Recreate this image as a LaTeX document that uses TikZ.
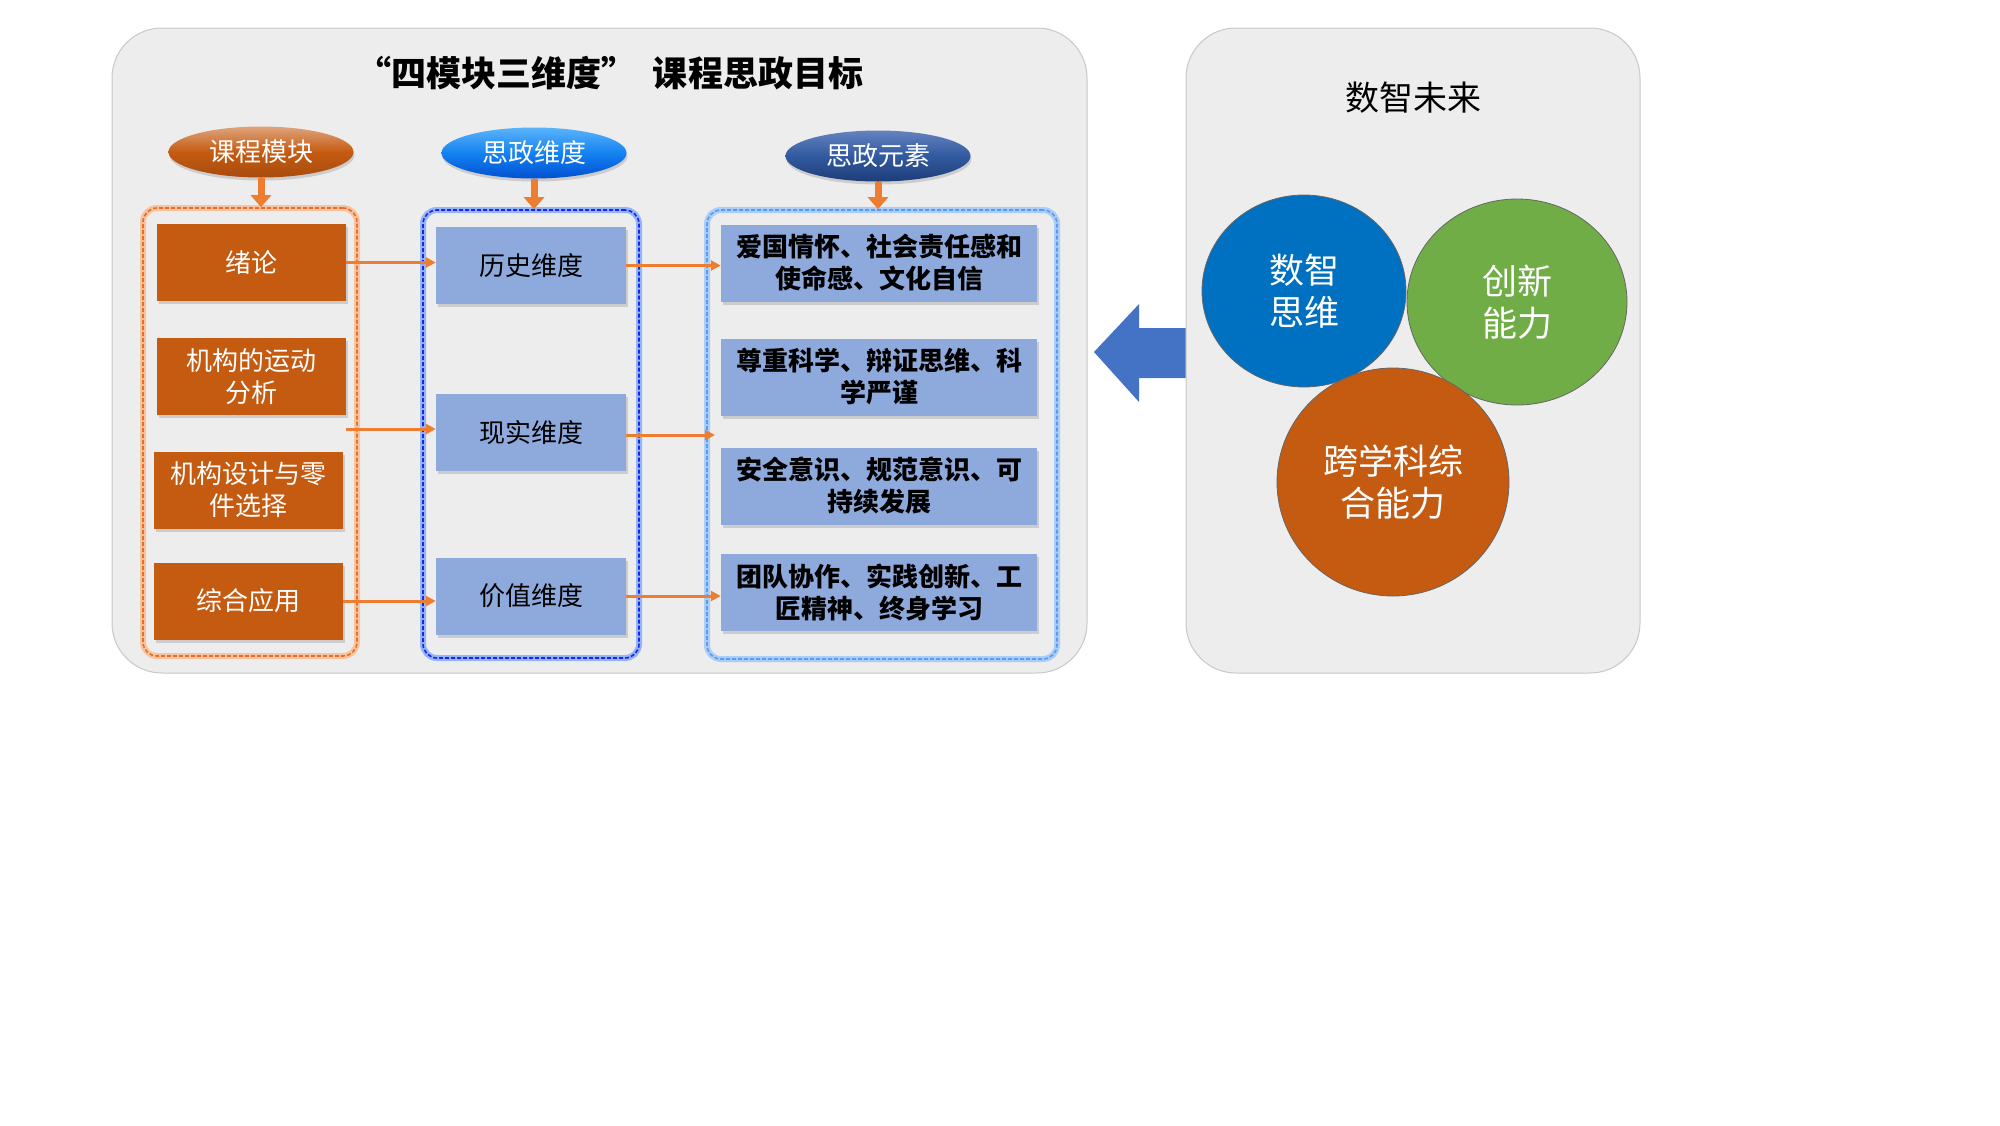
\documentclass[tikz,border=0pt]{standalone}
\usepackage{fontspec}
\setmainfont{Noto Sans CJK SC}
\usetikzlibrary{positioning, arrows.meta, calc, backgrounds, shapes.geometric, shadows}
\definecolor{panelBg}{RGB}{237,237,237}
\definecolor{panelBrd}{RGB}{200,200,200}
\definecolor{modFill}{RGB}{197,90,17}
\definecolor{dimFill}{RGB}{142,169,219}
\definecolor{arrowC}{RGB}{237,125,49}
\definecolor{modBrd}{RGB}{230,110,40}
\definecolor{modGlow}{RGB}{248,196,160}
\definecolor{dimBrd}{RGB}{20,40,230}
\definecolor{dimGlow}{RGB}{150,180,250}
\definecolor{eleBrd}{RGB}{91,155,235}
\definecolor{eleGlow}{RGB}{170,205,250}
\definecolor{bigArrow}{RGB}{68,114,196}
\definecolor{cirBlue}{RGB}{0,112,192}
\definecolor{cirGreen}{RGB}{112,173,71}
\definecolor{cirOrange}{RGB}{197,90,17}
\tikzset{
  every node/.style={font=\fontsize{26}{32}\selectfont},
  B/.style={inner sep=2pt, align=center, minimum height=77pt,
    drop shadow={shadow xshift=2pt, shadow yshift=-3pt, opacity=0.3}},
  MOD/.style={B, fill=modFill, text=white, minimum width=189pt},
  DIM/.style={B, fill=dimFill, text=black, minimum width=190pt},
  ELE/.style={B, fill=dimFill, text=black, minimum width=316pt,
    font=\fontsize{26}{32}\selectfont\bfseries},
  HEAD/.style={ellipse, minimum width=185pt, minimum height=51pt, inner sep=0pt,
    text=white, font=\fontsize{26}{30}\selectfont,
    drop shadow={shadow xshift=1pt, shadow yshift=-3pt, opacity=0.3}},
  GRP/.style={rounded corners=14pt, dash pattern=on 4pt off 2pt, line width=1.6pt},
  PANEL/.style={rounded corners=50pt, fill=panelBg, draw=panelBrd, line width=1pt},
  CIR/.style={ellipse, draw=black!60, line width=0.8pt, text=white, align=center,
    font=\fontsize{35}{42}\selectfont},
  AR/.style={-{Triangle[length=10pt,width=10pt]}, line width=3pt, arrowC},
  DN/.style={-{Triangle[length=12pt,width=20pt]}, line width=7pt, arrowC},
}
\newcommand{\hflow}[2]{\draw[AR] (#1) -- (#2);}

\begin{document}
\begin{tikzpicture}[x=1pt, y=1pt, yscale=-1]
\useasboundingbox (0,0) rectangle (2000,1125);

%% ═══════════════════════════════════════════════════════════════════════════
%%  Panel A — 课程思政目标
%% ═══════════════════════════════════════════════════════════════════════════

\node[PANEL, minimum width=975pt, minimum height=645pt] (PA) at (599.5,350.5) {};
\node[font=\fontsize{35}{40}\selectfont\bfseries] (TTL) at (610,73)
  {“四模块三维度”\ \ 课程思政目标};

\node[HEAD, top color=modFill!55!white, bottom color=modFill!85!black, middle color=modFill]
  (HMOD) at (261,152) {课程模块};
\node[HEAD, top color={rgb,255:red,90;green,180;blue,250}, bottom color={rgb,255:red,0;green,80;blue,210},
  middle color={rgb,255:red,20;green,130;blue,240}] (HDIM) at (534,153) {思政维度};
\node[HEAD, top color={rgb,255:red,100;green,130;blue,190}, bottom color={rgb,255:red,30;green,60;blue,120},
  middle color={rgb,255:red,50;green,90;blue,160}] (HELE) at (878,156) {思政元素};

\node[GRP, draw=modBrd, preaction={draw=modGlow, line width=6pt, solid},
  minimum width=214pt, minimum height=448pt] (GMOD) at (250,432) {};
\node[GRP, draw=dimBrd, preaction={draw=dimGlow, line width=6pt, solid},
  minimum width=216pt, minimum height=448pt] (GDIM) at (531,434) {};
\node[GRP, draw=eleBrd, preaction={draw=eleGlow, line width=6pt, solid},
  minimum width=350pt, minimum height=449pt] (GELE) at (882,434.5) {};

\draw[DN] (HMOD.south) -- (HMOD.south |- GMOD.north);
\draw[DN] (HDIM.south) -- (HDIM.south |- GDIM.north);
\draw[DN] (HELE.south) -- (HELE.south |- GELE.north);

%% modules
\node[MOD] (XL)  at (251.5,262.5) {绪论};
\node[MOD] (YD)  at (251.5,376.5) {机构的运动\\分析};
\node[MOD] (SJ)  at (248,490) {机构设计与零\\件选择};
\node[MOD] (ZH)  at (248,601) {综合应用};

%% dimensions
\node[DIM] (LS)  at (531,265.5) {历史维度};
\node[DIM] (XS)  at (531,432.5) {现实维度};
\node[DIM] (JZ)  at (531,596) {价值维度};

%% elements
\node[ELE] (E1) at (879,263) {爱国情怀、社会责任感和\\使命感、文化自信};
\node[ELE] (E2) at (879,377) {尊重科学、辩证思维、科\\学严谨};
\node[ELE] (E3) at (879,486) {安全意识、规范意识、可\\持续发展};
\node[ELE] (E4) at (879,592.5) {团队协作、实践创新、工\\匠精神、终身学习};

\coordinate (XSin)  at (346,429);
\coordinate (XSout) at (715,435);

\hflow{XL.east}{XL.east -| LS.west}
\hflow{XSin}{XSin -| XS.west}
\hflow{ZH.east}{ZH.east -| JZ.west}
\hflow{LS.east}{LS.east -| E1.west}
\hflow{XS.east |- XSout}{XSout}
\hflow{JZ.east}{JZ.east -| E4.west}

%% ═══════════════════════════════════════════════════════════════════════════
%%  Panel B — 数智未来
%% ═══════════════════════════════════════════════════════════════════════════

\node[PANEL, minimum width=454pt, minimum height=645pt] (PB) at (1413,350.5) {};
\node[font=\fontsize{34}{40}\selectfont] (TTB) at (1413,98) {数智未来};

\node[CIR, fill=cirBlue, minimum width=204pt, minimum height=192pt] (C1) at (1304,291) {数智\\思维};
\node[CIR, fill=cirGreen, minimum width=220pt, minimum height=206pt] (C2) at (1517,302) {创新\\能力};
\node[CIR, fill=cirOrange, minimum width=232pt, minimum height=228pt] (C3) at (1393,482) {跨学科综\\合能力};

%% big arrow back to panel A
\fill[bigArrow] (1094,352) -- (1139,304) -- (1139,328) -- (PB.west |- 0,328)
  -- (PB.west |- 0,378) -- (1139,378) -- (1139,402) -- cycle;

\end{tikzpicture}
\end{document}
